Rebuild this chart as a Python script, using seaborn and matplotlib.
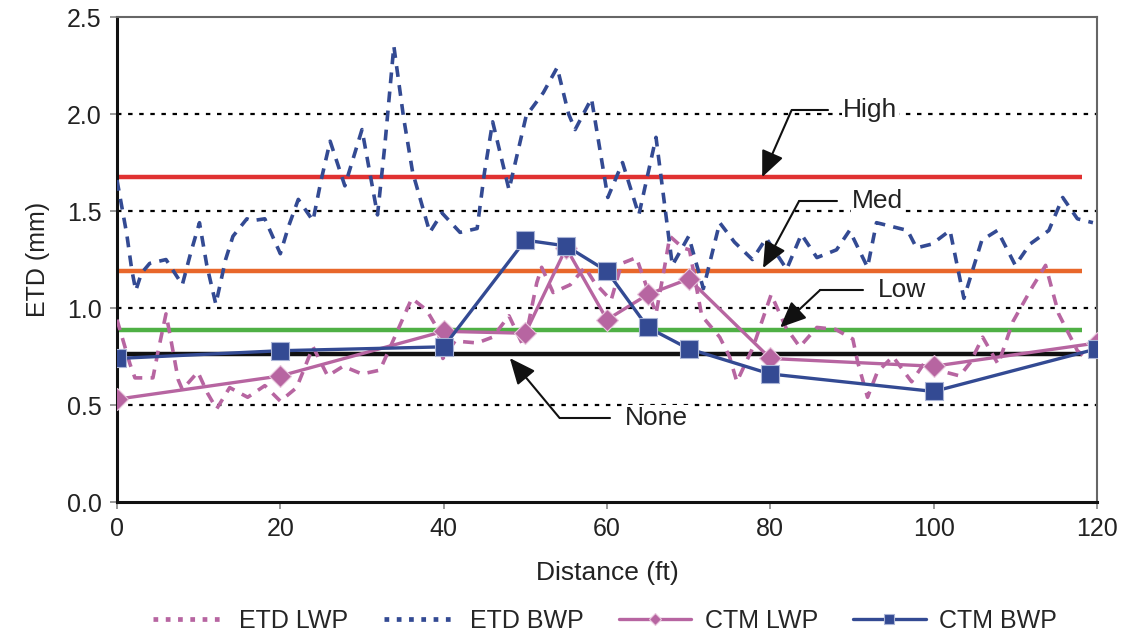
import numpy as np
import pandas as pd
import matplotlib
matplotlib.use("Agg")
import matplotlib.pyplot as plt
from matplotlib.lines import Line2D
import seaborn as sns

# CTM model results at the survey stations
ctm_dist = [0, 20, 40, 50, 55, 60, 65, 70, 80, 100, 120]
ctm_lwp = [0.53, 0.65, 0.88, 0.87, 1.31, 0.94, 1.07, 1.15, 0.74, 0.70, 0.82]
ctm_bwp = [0.74, 0.78, 0.80, 1.35, 1.32, 1.19, 0.90, 0.79, 0.66, 0.57, 0.79]

etd_bwp_dist = [0, 0.6, 1.2, 1.8, 2.3, 3.0, 4.0, 6.0, 8.0, 9.0, 10.1, 11.0, 12.1,
                13.3, 14.2, 15.9, 16.5, 18.1, 20.0, 21.0, 22.2, 24.0, 25.0, 26.1,
                27.9, 30.0, 31.9, 32.8, 33.9, 35.1, 36.2, 38.3, 39.8, 42.0, 44.1,
                45.0, 46.0, 48.0, 50.1, 52.2, 53.9, 55.3, 56.1, 58.1, 60.1, 61.9,
                63.9, 66.0, 68.0, 70.0, 71.8, 73.8, 75.6, 77.8, 79.5, 82.0, 83.8,
                85.7, 88.1, 89.7, 91.9, 93.0, 96.8, 97.9, 99.8, 102.0, 103.7, 105.9,
                107.8, 110.0, 111.8, 114.1, 115.8, 117.6, 119.5]
etd_bwp = [1.66, 1.52, 1.38, 1.20, 1.09, 1.18, 1.23, 1.25, 1.12, 1.28, 1.44, 1.22, 1.02,
           1.25, 1.37, 1.46, 1.45, 1.46, 1.28, 1.42, 1.56, 1.45, 1.66, 1.86,
           1.63, 1.92, 1.48, 1.84, 2.35, 1.98, 1.70, 1.39, 1.49, 1.39, 1.41,
           1.70, 1.96, 1.61, 1.99, 2.11, 2.24, 2.00, 1.92, 2.08, 1.57, 1.75,
           1.48, 1.88, 1.22, 1.37, 1.10, 1.44, 1.34, 1.25, 1.36, 1.20, 1.38,
           1.26, 1.30, 1.40, 1.21, 1.44, 1.40, 1.31, 1.33, 1.40, 1.05, 1.35,
           1.40, 1.22, 1.33, 1.40, 1.57, 1.46, 1.44]

etd_lwp_dist = [0, 1.6, 2.2, 4.4, 5.0, 6.0, 6.5, 7.5, 8.0, 9.9, 11.1, 12.2, 13.8,
                16.0, 18.1, 20.0, 22.0, 24.0, 25.8, 27.7, 30.0, 32.2, 34.0, 36.1,
                37.9, 39.3, 39.9, 41.4, 44.1, 46.0, 48.0, 49.8, 51.4, 52.0, 53.4,
                55.5, 57.3, 58.5, 60.5, 61.8, 63.6, 64.6, 66.0, 67.0, 67.7, 69.3,
                70.1, 71.6, 73.8, 75.0, 75.9, 77.9, 80.1, 81.9, 83.6, 85.7, 88.0,
                90.1, 90.7, 91.9, 93.1, 95.0, 97.3, 98.9, 100.5, 103.2, 104.5, 106.0,
                107.9, 109.7, 112.1, 113.7, 115.3, 117.6, 118.5]
etd_lwp = [0.94, 0.71, 0.64, 0.64, 0.77, 0.97, 0.86, 0.63, 0.58, 0.67, 0.56, 0.48, 0.59,
           0.54, 0.60, 0.52, 0.59, 0.80, 0.65, 0.70, 0.66, 0.68, 0.85, 1.05,
           0.99, 0.89, 0.74, 0.83, 0.82, 0.85, 0.96, 0.80, 1.13, 1.21, 1.08,
           1.12, 1.21, 1.13, 1.04, 1.23, 1.26, 1.14, 0.97, 1.20, 1.37, 1.31,
           1.30, 0.96, 0.85, 0.75, 0.62, 0.80, 1.07, 0.90, 0.80, 0.90, 0.89,
           0.84, 0.72, 0.54, 0.67, 0.75, 0.62, 0.72, 0.68, 0.65, 0.72, 0.85,
           0.71, 0.93, 1.11, 1.22, 0.97, 0.78, 0.75]

# severity thresholds
level_names = ["High", "Med", "Low", "None"]
level_values = [1.675, 1.19, 0.887, 0.763]
level_colors = ["#E03131", "#E8672B", "#4FB045", "#111111"]
level_end = 118.2

grid_values = [0.5, 1.0, 1.5, 2.0]

pink = "#B765A1"
blue = "#334A93"

sns.set_style("white")
plt.rcParams["font.family"] = ["Liberation Sans", "DejaVu Sans"]

fig = plt.figure(figsize=(11.27, 6.41), dpi=100)
ax = fig.add_axes([0.1038, 0.2168, 0.8696, 0.7566])

for g in grid_values:
    ax.axhline(g, color="black", lw=1.6, linestyle=(0, (2, 3)), zorder=1)

for val, col in zip(level_values, level_colors):
    ax.plot([0, level_end], [val, val], color=col, lw=3.2, solid_capstyle="butt", zorder=2)

dash = (0, (3, 2.3))
sns.lineplot(x=etd_lwp_dist, y=etd_lwp, ax=ax, color=pink, lw=2.6,
             linestyle=dash, label="ETD LWP", zorder=3)
sns.lineplot(x=etd_bwp_dist, y=etd_bwp, ax=ax, color=blue, lw=2.6,
             linestyle=dash, label="ETD BWP", zorder=3)
sns.lineplot(x=ctm_dist, y=ctm_lwp, ax=ax, color=pink, lw=2.4, marker="D",
             markersize=11, markeredgecolor="#E8C6DC", markeredgewidth=0.8,
             label="CTM LWP", zorder=4)
sns.lineplot(x=ctm_dist, y=ctm_bwp, ax=ax, color=blue, lw=2.4, marker="s",
             markersize=13, markeredgecolor="#A9B4D6", markeredgewidth=0.8,
             label="CTM BWP", zorder=5)

# callouts: text position, elbow, tip
callouts = {
    "High": ((88.9, 2.02), (87.1, 82.6), (79.0, 1.675)),
    "Med": ((90.0, 1.55), (88.2, 83.5), (79.1, 1.206)),
    "Low": ((93.2, 1.093), (91.3, 86.1), (81.2, 0.90)),
    "None": ((62.2, 0.433), (60.4, 54.2), (48.1, 0.742)),
}
for name, (txt, (x_end, x_elb), tip) in callouts.items():
    ty = txt[1]
    ax.plot([x_end, x_elb], [ty, ty], color="#111111", lw=1.5, zorder=6)
    ax.annotate("", xy=tip, xytext=(x_elb, ty),
                arrowprops=dict(arrowstyle="-|>,head_length=0.8,head_width=0.35",
                                mutation_scale=20, color="#111111", lw=1.5,
                                shrinkA=0, shrinkB=0), zorder=6)
    ax.text(txt[0], ty, name, fontsize=19, color="#222222", va="center",
            ha="left", zorder=6,
            bbox=dict(facecolor="white", edgecolor="none", pad=1))

ax.set_xlim(0, 120)
ax.set_ylim(0, 2.5)
ax.set_xticks(range(0, 121, 20))
ax.set_yticks([0, 0.5, 1.0, 1.5, 2.0, 2.5])
ax.set_yticklabels(["0.0", "0.5", "1.0", "1.5", "2.0", "2.5"])
ax.tick_params(axis="both", labelsize=18, colors="#222222", length=5,
               width=1.2, direction="out", left=True, bottom=True, pad=6)
ax.tick_params(axis="both", color="#888888")
ax.set_xlabel("Distance (ft)", fontsize=19, color="#222222", labelpad=14)
ax.set_ylabel("ETD (mm)", fontsize=18, color="#222222", labelpad=12)

for side in ["left", "bottom"]:
    ax.spines[side].set_color("#111111")
    ax.spines[side].set_linewidth(2.2)
for side in ["top", "right"]:
    ax.spines[side].set_color("#666666")
    ax.spines[side].set_linewidth(1.5)

# legend: the ETD entries are drawn as square dots, like the original key
ax.get_legend().remove()
handles, labels = ax.get_legend_handles_labels()
dotted = (0, (1, 1.6))
handles[0] = Line2D([], [], color=pink, lw=3.4, linestyle=dotted, dash_capstyle="butt")
handles[1] = Line2D([], [], color=blue, lw=3.4, linestyle=dotted, dash_capstyle="butt")
fig.legend(handles, labels, loc="center", bbox_to_anchor=(0.537, 0.031), ncol=4,
           frameon=False, fontsize=18, handlelength=2.9, columnspacing=1.4,
           handletextpad=0.55, markerscale=0.6)

fig.savefig("out.png", dpi=100)
